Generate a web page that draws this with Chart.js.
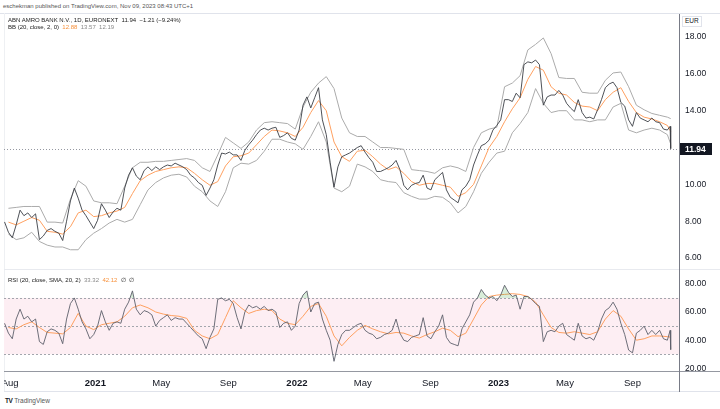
<!DOCTYPE html>
<html>
<head>
<meta charset="utf-8">
<script src="https://cdn.jsdelivr.net/npm/chart.js@4.4.1/dist/chart.umd.min.js"></script>
<style>
html,body{margin:0;padding:0;background:#fff;}
body{width:720px;height:409px;position:relative;overflow:hidden;font-family:"Liberation Sans",Arial,sans-serif;color:#131722;}
.t{position:absolute;white-space:nowrap;line-height:1;}
.ln{position:absolute;}
canvas{position:absolute;}
</style>
</head>
<body>
<div class="ln" style="left:0;top:13px;width:720px;height:1px;background:#e0e3eb"></div>
<div class="ln" style="left:4px;top:13px;width:1px;height:379px;background:#eef0f3"></div>
<div class="ln" style="left:4px;top:391px;width:716px;height:1px;background:#e0e3eb"></div>
<div class="ln" style="left:4px;top:269px;width:716px;height:1px;background:#e8eaef"></div>
<canvas id="pc" width="716" height="255" style="left:4px;top:14px"></canvas>
<canvas id="rc" width="716" height="124" style="left:4px;top:270px"></canvas>
<div class="ln" style="left:4px;top:371px;width:716px;height:1px;background:#9598a1"></div>
<div class="ln" style="left:679px;top:14px;width:1px;height:378px;background:#787b86"></div>

<div class="t" style="left:3px;top:3px;font-size:6px;color:#555">eschekman published on TradingView.com, Nov 09, 2023 08:43 UTC+1</div>
<div class="t" style="left:8px;top:17px;font-size:6px;color:#222">ABN AMRO BANK N.V., 1D, EURONEXT&nbsp;&nbsp;<span id="lastTxt"></span>&nbsp;&nbsp;<span id="chgTxt"></span></div>
<div class="t" style="left:8px;top:24px;font-size:6px;color:#222">BB (20, close, 2, 0)&nbsp;&nbsp;<span id="bbM" style="color:#f7913c"></span>&nbsp;&nbsp;<span id="bbU" style="color:#888"></span>&nbsp;&nbsp;<span id="bbL" style="color:#888"></span></div>
<div class="t" style="left:8px;top:277px;font-size:6px;color:#222">RSI (20, close, SMA, 20, 2)&nbsp;&nbsp;<span id="rsiV" style="color:#888"></span>&nbsp;&nbsp;<span id="rsiM" style="color:#f7913c"></span>&nbsp;&nbsp;∅&nbsp;&nbsp;∅</div>
<div class="t" style="left:682px;top:16px;font-size:6.5px;color:#131722;border:1px solid #e0e3eb;padding:1px 2px;background:#fff">EUR</div>
<div class="t" style="left:5px;top:398px;font-size:6.5px;color:#131722"><b style="font-size:6.5px;letter-spacing:-0.5px">TV</b>&nbsp;<span style="color:#555">TradingView</span></div>

<script>
// ---------- DATA ----------
const firstWeek = '2020-07-24';
const weekCount = 172;
const extraDates = ['2023-11-08', '2023-11-09'];

// weekly closes (EUR)
const closes = [
  7.96, 7.4, 7.1, 7.8, 8.6, 8.3, 8.45, 8.2, 8.4, 7.0,
  7.2, 7.5, 7.6, 7.45, 7.35, 6.95, 8.0, 9.1, 9.8, 9.25,
  8.6, 8.3, 7.95, 7.6, 8.05, 8.95, 8.6, 8.2, 8.5, 8.7,
  8.6, 9.8, 10.5, 10.9, 10.45, 10.25, 10.75, 10.95, 10.75, 10.95,
  10.8, 10.95, 11.05, 11.0, 11.15, 11.05, 10.95, 10.8, 10.5, 10.35,
  10.1, 9.95, 9.4, 9.8, 10.25, 11.05, 11.7, 11.65, 11.75, 11.6,
  11.6, 11.3, 11.85, 12.15, 12.4, 12.7, 12.95, 13.05, 12.95, 13.05,
  13.1, 12.55, 12.65, 12.8, 12.5, 12.4, 12.95, 14.3, 14.75, 14.15,
  14.7, 15.25, 13.5, 12.7, 11.2, 9.85, 10.95, 11.5, 11.6, 11.7,
  11.85, 12.0, 12.1, 11.75, 11.45, 11.2, 10.7, 10.7, 10.8, 10.9,
  11.05, 11.3, 10.8, 9.95, 9.7, 9.95, 10.05, 10.1, 10.5, 9.8,
  9.7, 10.25, 10.45, 10.65, 9.7, 9.3, 9.15, 9.0, 9.7, 9.9,
  10.25, 11.05, 11.6, 12.1, 12.2, 12.4, 12.95, 13.2, 13.5, 14.6,
  14.6, 14.5, 14.95, 14.7, 16.5, 16.65, 16.6, 16.75, 16.5, 14.3,
  14.75, 14.85, 14.85, 15.1, 14.85, 14.4, 14.15, 13.95, 14.6, 13.9,
  13.6, 13.65, 13.55, 14.05, 14.6, 15.25, 15.45, 15.55, 15.25, 14.45,
  14.25, 13.5, 13.15, 13.9, 13.6, 13.5, 13.4, 13.6, 13.4, 13.35,
  13.0, 12.95, 13.15, 11.94
];
const changeAbs = -1.21;
const changePct = -9.24;

// Bollinger bands, every second week
const bbUpper = [
  8.7, 8.75, 8.8, 8.8, 8.8, 7.95, 7.95, 7.9, 9.2, 10.2,
  9.9, 9.1, 9.0, 9.0, 8.95, 9.9, 10.9, 11.2, 11.2, 11.25,
  11.25, 11.3, 11.35, 11.4, 11.3, 10.9, 10.7, 11.6, 12.55, 12.25,
  11.95, 12.3, 12.95, 13.35, 13.4, 13.35, 13.3, 13.0, 14.2, 15.0,
  15.5, 15.85, 15.2, 13.6, 12.8, 12.6, 12.6, 12.3, 12.0, 12.0,
  11.95, 11.9, 10.8, 10.75, 10.7, 10.6, 10.9, 11.0, 10.9, 10.7,
  12.0, 12.8, 13.0, 13.1, 15.3, 15.5, 15.9, 17.3, 17.6, 17.95,
  17.1, 15.8, 15.75, 15.75, 15.0, 14.95, 14.95, 15.65, 16.05, 16.1,
  15.3, 14.3, 14.05, 13.85, 13.75, 13.65, 13.57
];
const bbBasis = [
  7.95, 7.8, 8.0, 8.2, 8.05, 7.45, 7.4, 7.3, 7.7, 8.45,
  8.6, 8.25, 8.3, 8.45, 8.55, 8.75, 9.5, 10.2, 10.5, 10.7,
  10.8, 10.9, 10.95, 10.9, 10.6, 10.25, 9.95, 10.15, 11.0, 11.5,
  11.55, 11.7, 12.15, 12.6, 12.95, 12.9, 12.8, 12.6, 13.1, 13.9,
  14.55, 14.0, 12.3, 11.5, 11.25, 11.8, 11.85, 11.5, 11.1, 10.8,
  10.95, 10.6, 10.15, 9.95, 10.05, 10.05, 9.95, 9.85, 9.35, 9.55,
  10.0, 11.0, 12.0, 12.6, 13.4, 14.1, 14.7, 15.7, 16.4, 16.2,
  15.3, 14.95, 14.85, 14.45, 14.25, 14.2, 14.0, 14.6, 15.0, 15.25,
  14.5, 13.9, 13.65, 13.55, 13.4, 13.2, 12.88
];
const bbLower = [
  7.3, 7.0, 7.1, 7.4, 6.9, 6.7, 6.6, 6.6, 6.45, 6.45,
  7.0, 7.35, 7.6, 7.9, 8.1, 7.95, 8.1, 8.9, 9.7, 10.1,
  10.35, 10.5, 10.55, 10.4, 9.9, 9.6, 9.1, 8.8, 9.6, 10.9,
  11.15, 11.1, 11.3, 11.8, 12.45, 12.45, 12.3, 12.2, 11.9, 12.6,
  13.4, 12.3, 9.8, 9.6, 9.9, 11.1, 10.95, 10.7, 10.25, 10.15,
  10.1, 9.55, 9.35, 9.2, 9.2, 9.35, 9.3, 9.0, 8.45, 8.8,
  9.6, 10.6, 11.2, 11.7, 11.8, 12.8, 13.3, 13.9, 15.2, 14.4,
  13.9, 14.0, 14.0, 13.5, 13.5, 13.4, 13.5, 13.5, 14.2, 14.4,
  12.95, 12.8, 12.95, 13.05, 12.95, 12.7, 12.19
];

// RSI (weekly) and its SMA (every second week)
const rsi = [
  52, 45, 41, 55, 62, 55, 57, 53, 55, 39,
  37, 46, 48, 47, 45, 37.5, 55, 66, 70, 62,
  53, 48, 41, 44, 50, 61, 53, 47, 52, 53,
  52, 62, 67, 75, 62, 58, 61, 60, 58, 50,
  54, 56, 58, 54, 56, 55, 55, 52, 49, 46,
  43, 41, 34, 42, 48, 69, 70, 68, 69, 66,
  56, 48, 60, 65, 63, 64, 62, 64, 61, 62,
  60, 49, 52, 53, 47, 50, 66, 72, 75, 60,
  66, 67, 55, 47, 40, 25, 37, 44, 47, 47,
  49, 51, 52, 47, 45, 44, 41, 42, 44, 45,
  47, 55, 45, 40, 39, 42, 43, 44, 56, 43,
  41, 46, 50, 58, 42, 38, 37, 36, 48, 53,
  58, 67, 70, 76, 72, 70, 71, 68, 72, 79,
  74, 71, 72, 62, 71, 71, 69, 66, 64, 39,
  46, 47, 46, 50, 52, 44, 42, 40, 52, 43,
  41, 42, 40, 46, 55, 61, 63, 67, 62, 52,
  44, 33, 31, 45, 47, 50, 44, 47, 44, 47,
  41, 40, 47, 33.32
];
const rsiMa = [
  49, 48, 51, 53, 49, 45.5, 45, 44.5, 49, 59,
  50, 47.5, 51, 52, 53, 57, 63, 65, 63, 60,
  58.5, 57.5, 57, 55.5, 47, 43, 41, 44, 56, 68,
  63, 59, 61, 62, 61, 55, 52, 51, 57, 64,
  66, 57, 43, 36, 42, 47, 50.5, 48, 46, 44.5,
  45.5, 45, 43, 41.5, 44, 46, 48.5, 47, 42.5, 45,
  55, 65, 71, 72, 72.5, 73, 72.5, 71, 67, 58,
  49, 45.5, 45, 46, 45, 44, 46, 55, 61, 57,
  48, 40, 41, 43, 43, 42.5, 42.12
];

const priceTicks = [6, 8, 10, 14, 16, 18];
const rsiTicks = [20, 40, 60, 80];
const rsiLevels = [70, 50, 30];
const tickDates = ['2020-08-03','2021-01-04','2021-05-03','2021-09-01','2022-01-03','2022-05-02','2022-09-01','2023-01-02','2023-05-02','2023-09-01'];
const tickLabels = ['Aug','2021','May','Sep','2022','May','Sep','2023','May','Sep'];
const xStart = '2020-07-23', xEnd = '2023-11-24';

// ---------- BUILD ----------
const DAY = 86400000;
const T = d => Date.parse(d + 'T00:00:00Z');
const closeDates = [];
for (let k = 0; k < weekCount; k++) closeDates.push(new Date(T(firstWeek) + 7 * k * DAY).toISOString().slice(0, 10));
extraDates.forEach(d => closeDates.push(d));
const bandDates = closeDates.filter((d, k) => k % 2 === 1 && k < weekCount).concat([extraDates[extraDates.length - 1]]);

const pts = (dates, vals) => vals.map((v, i) => ({x: T(dates[i]), y: v}));
const last = closes[closes.length - 1];
const sgn = v => (v < 0 ? '\u2212' : '+');
document.getElementById('lastTxt').textContent = last.toFixed(2);
document.getElementById('chgTxt').textContent = sgn(changeAbs) + Math.abs(changeAbs).toFixed(2) + ' (' + sgn(changePct) + Math.abs(changePct).toFixed(2) + '%)';
document.getElementById('bbM').textContent = bbBasis[bbBasis.length - 1].toFixed(2);
document.getElementById('bbU').textContent = bbUpper[bbUpper.length - 1].toFixed(2);
document.getElementById('bbL').textContent = bbLower[bbLower.length - 1].toFixed(2);
document.getElementById('rsiV').textContent = rsi[rsi.length - 1].toFixed(2);
document.getElementById('rsiM').textContent = rsiMa[rsiMa.length - 1].toFixed(2);

const FONT = '"Liberation Sans", Arial, sans-serif';
const ORANGE = '#ffa060';
const BAND = '#ababab';

function lineDs(data, color, w) {
  return {data, borderColor: color, borderWidth: w || 1, pointRadius: 0, tension: 0, fill: false};
}
const xHidden = {type: 'linear', min: T(xStart), max: T(xEnd), display: false};

const lastPricePlugin = {
  id: 'lastPrice',
  beforeDatasetsDraw(chart) {
    const {ctx, chartArea: a, scales: {y}} = chart;
    const py = Math.round(y.getPixelForValue(last)) + 0.5;
    ctx.save();
    ctx.strokeStyle = '#9598a1'; ctx.lineWidth = 1; ctx.setLineDash([1, 2]);
    ctx.beginPath(); ctx.moveTo(a.left, py); ctx.lineTo(a.right, py); ctx.stroke();
    ctx.restore();
  },
  afterDraw(chart) {
    const {ctx, chartArea: a, scales: {y}} = chart;
    const py = Math.round(y.getPixelForValue(last));
    ctx.save();
    ctx.fillStyle = '#131722';
    ctx.fillRect(a.right + 1, py - 6, 32, 12);
    ctx.fillStyle = '#fff';
    ctx.font = 'bold 8.5px ' + FONT;
    ctx.textBaseline = 'middle';
    ctx.fillText(last.toFixed(2), a.right + 6, py + 0.5);
    ctx.restore();
  }
};

new Chart(document.getElementById('pc'), {
  type: 'line',
  data: {
    datasets: [
      lineDs(pts(closeDates, closes), '#3b3e45', 0.9),
      lineDs(pts(bandDates, bbBasis), ORANGE, 1),
      lineDs(pts(bandDates, bbUpper), BAND, 1),
      lineDs(pts(bandDates, bbLower), BAND, 1)
    ]
  },
  options: {
    responsive: false, animation: false, events: [],
    layout: {padding: 0},
    plugins: {legend: {display: false}, tooltip: {enabled: false}},
    scales: {
      x: xHidden,
      y: {
        position: 'right', min: 5.405, max: 19.25,
        afterBuildTicks: s => { s.ticks = priceTicks.map(v => ({value: v})); },
        afterFit: s => { s.width = 41; s.paddingTop = 0; s.paddingBottom = 0; },
        grid: {display: false, drawTicks: false},
        border: {display: false},
        ticks: {padding: 6, color: '#131722', font: {family: FONT, size: 8.5}, callback: v => Number(v).toFixed(2)}
      }
    }
  },
  plugins: [lastPricePlugin]
});

const rsiBandPlugin = {
  id: 'rsiBand',
  beforeDatasetsDraw(chart) {
    const {ctx, chartArea: a, scales: {y}} = chart;
    const yTop = y.getPixelForValue(rsiLevels[0]);
    const yBot = y.getPixelForValue(rsiLevels[2]);
    ctx.save();
    ctx.fillStyle = '#fdeef3';
    ctx.fillRect(a.left, yTop, a.right - a.left, yBot - yTop);
    ctx.strokeStyle = '#a3a6ad'; ctx.lineWidth = 1; ctx.setLineDash([2, 2]);
    rsiLevels.forEach(l => {
      const py = Math.round(y.getPixelForValue(l)) + 0.5;
      ctx.beginPath(); ctx.moveTo(a.left, py); ctx.lineTo(a.right, py); ctx.stroke();
    });
    ctx.restore();
  }
};

new Chart(document.getElementById('rc'), {
  type: 'line',
  data: {
    datasets: [
      Object.assign(lineDs(pts(closeDates, rsi), '#5d606b', 0.9), {
        fill: {target: {value: rsiLevels[0]}, above: 'rgba(76,175,80,0.22)', below: 'rgba(0,0,0,0)'}
      }),
      lineDs(pts(bandDates, rsiMa), ORANGE, 1)
    ]
  },
  options: {
    responsive: false, animation: false, events: [],
    layout: {padding: 0},
    plugins: {legend: {display: false}, tooltip: {enabled: false}},
    scales: {
      x: {
        type: 'linear', min: T(xStart), max: T(xEnd), position: 'bottom',
        afterBuildTicks: s => { s.ticks = tickDates.map(d => ({value: T(d)})); },
        afterFit: s => { s.height = 22; s.paddingLeft = 0; s.paddingRight = 0; },
        grid: {display: false, drawTicks: false},
        border: {display: false},
        ticks: {
          autoSkip: false, maxRotation: 0, minRotation: 0, padding: 6, color: '#131722',
          font: ctx => ({family: FONT, size: 9.5, weight: /^\d{4}$/.test(tickLabels[ctx.index]) ? 'bold' : 'normal'}),
          callback: (v, i) => tickLabels[i]
        }
      },
      y: {
        position: 'right', min: 17.42, max: 89.82,
        afterBuildTicks: s => { s.ticks = rsiTicks.map(v => ({value: v})); },
        afterFit: s => { s.width = 41; s.paddingTop = 0; s.paddingBottom = 0; },
        grid: {display: false, drawTicks: false},
        border: {display: false},
        ticks: {padding: 6, color: '#131722', font: {family: FONT, size: 8.5}, callback: v => Number(v).toFixed(2)}
      }
    }
  },
  plugins: [rsiBandPlugin]
});
</script>
</body>
</html>
